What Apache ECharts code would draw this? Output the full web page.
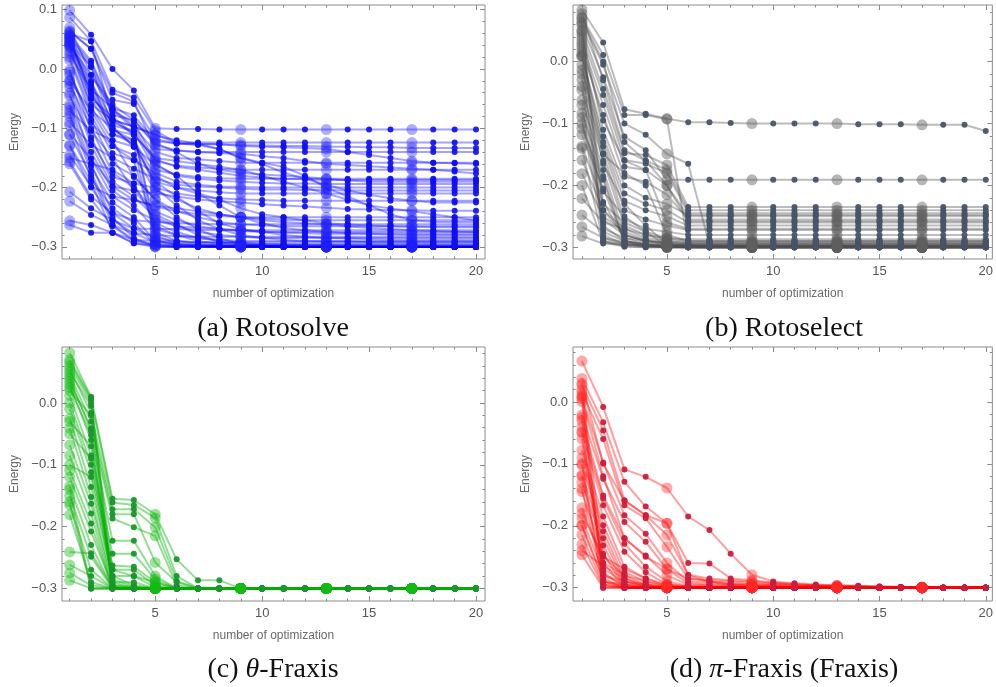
<!DOCTYPE html>
<html>
<head>
<meta charset="utf-8">
<script src="https://cdn.jsdelivr.net/npm/echarts@6/dist/echarts.min.js"></script>
<style>
html,body{margin:0;padding:0;background:#fff;}
#chart{width:996px;height:687px;}
</style>
</head>
<body>
<div id="chart"></div>
<script>
// Optimization step numbers (x values) and tick values
const steps = [1,2,3,4,5,6,7,8,9,10,11,12,13,14,15,16,17,18,19,20];
const xMajorTicks = [5,10,15,20];
const yMajorTicks = [-0.3,-0.2,-0.1,0,0.1];
const yMinorTicks = [-0.3,-0.28,-0.26,-0.24,-0.22,-0.2,-0.18,-0.16,-0.14,-0.12,-0.1,-0.08,-0.06,-0.04,-0.02,0,0.02,0.04,0.06,0.08,0.1];
const markedSteps = [1,5,9,13,17];
const panelCaptions = ['(a) Rotosolve','(b) Rotoselect','(c) {i|θ}-Fraxis','(d) {i|π}-Fraxis (Fraxis)'];
const xTitle = 'number of optimization';
const yTitle = 'Energy';

// Energy per optimization step, one row per run
const rotosolveRuns = [
[.099,.058,0,-.036,-.1,-.101,-.101,-.102,-.102,-.102,-.102,-.102,-.102,-.102,-.102,-.102,-.102,-.102,-.102,-.102],
[.087,.047,-.035,-.048,-.104,-.124,-.124,-.124,-.124,-.124,-.124,-.124,-.124,-.124,-.124,-.124,-.124,-.124,-.124,-.124],
[.063,.034,-.052,-.059,-.118,-.126,-.127,-.127,-.128,-.129,-.13,-.13,-.131,-.131,-.132,-.132,-.133,-.133,-.133,-.133],
[.058,.014,-.066,-.078,-.122,-.125,-.126,-.127,-.13,-.131,-.132,-.133,-.135,-.14,-.145,-.15,-.155,-.158,-.159,-.16],
[.052,.004,-.078,-.086,-.128,-.137,-.14,-.142,-.143,-.147,-.15,-.155,-.16,-.162,-.164,-.166,-.168,-.17,-.173,-.176],
[.046,-.023,-.086,-.097,-.14,-.15,-.152,-.155,-.158,-.158,-.158,-.158,-.158,-.158,-.158,-.158,-.158,-.158,-.158,-.158],
[.041,-.034,-.103,-.111,-.152,-.165,-.17,-.175,-.18,-.183,-.185,-.186,-.187,-.187,-.187,-.187,-.187,-.187,-.187,-.187],
[.038,-.064,-.12,-.131,-.162,-.18,-.185,-.188,-.19,-.192,-.193,-.193,-.194,-.194,-.194,-.194,-.194,-.194,-.194,-.194],
[.015,-.078,-.142,-.154,-.175,-.19,-.195,-.198,-.199,-.2,-.2,-.2,-.2,-.2,-.2,-.2,-.2,-.2,-.2,-.2],
[-.002,-.104,-.15,-.168,-.185,-.195,-.198,-.2,-.202,-.203,-.203,-.204,-.204,-.205,-.205,-.205,-.205,-.205,-.205,-.205],
[-.019,-.12,-.182,-.193,-.2,-.21,-.215,-.218,-.22,-.221,-.222,-.222,-.222,-.222,-.222,-.222,-.222,-.222,-.222,-.222],
[-.03,-.128,-.198,-.205,-.21,-.215,-.22,-.223,-.225,-.228,-.23,-.232,-.234,-.236,-.237,-.238,-.238,-.239,-.239,-.239],
[-.041,-.151,-.215,-.221,-.232,-.24,-.245,-.248,-.25,-.25,-.25,-.25,-.25,-.25,-.25,-.25,-.25,-.25,-.25,-.25],
[-.064,-.159,-.243,-.255,-.258,-.26,-.261,-.262,-.262,-.262,-.262,-.262,-.262,-.262,-.262,-.262,-.262,-.262,-.262,-.262],
[-.08,-.173,-.255,-.269,-.27,-.27,-.271,-.272,-.272,-.272,-.272,-.272,-.272,-.272,-.272,-.272,-.272,-.272,-.272,-.272],
[-.111,-.179,-.263,-.277,-.28,-.282,-.283,-.283,-.283,-.283,-.283,-.283,-.283,-.283,-.283,-.283,-.283,-.283,-.283,-.283],
[-.128,-.19,-.276,-.288,-.29,-.291,-.292,-.292,-.292,-.292,-.292,-.292,-.292,-.292,-.292,-.292,-.292,-.292,-.292,-.292],
[-.145,-.198,-.215,-.238,-.255,-.265,-.268,-.27,-.272,-.274,-.276,-.277,-.278,-.278,-.278,-.278,-.278,-.278,-.278,-.278],
[-.156,-.215,-.243,-.269,-.285,-.29,-.292,-.293,-.294,-.295,-.295,-.295,-.295,-.295,-.295,-.295,-.295,-.295,-.295,-.295],
[-.207,-.235,-.255,-.277,-.292,-.295,-.296,-.297,-.297,-.297,-.297,-.297,-.297,-.297,-.297,-.297,-.297,-.297,-.297,-.297],
[-.223,-.246,-.263,-.288,-.296,-.298,-.298,-.298,-.298,-.298,-.298,-.298,-.298,-.298,-.298,-.298,-.298,-.298,-.298,-.298],
[-.256,-.263,-.276,-.294,-.298,-.299,-.299,-.299,-.299,-.3,-.3,-.3,-.3,-.3,-.3,-.3,-.3,-.3,-.3,-.3],
[-.263,-.276,-.276,-.294,-.3,-.3,-.3,-.3,-.3,-.3,-.3,-.3,-.3,-.3,-.3,-.3,-.3,-.3,-.3,-.3],
[.06,.047,-.086,-.097,-.112,-.12,-.126,-.135,-.15,-.158,-.165,-.18,-.2,-.215,-.23,-.245,-.255,-.258,-.258,-.258],
[.056,-.02,-.11,-.12,-.18,-.2,-.21,-.22,-.235,-.245,-.25,-.255,-.26,-.262,-.264,-.265,-.266,-.267,-.267,-.267],
[.043,.004,-.097,-.131,-.19,-.215,-.24,-.26,-.27,-.275,-.28,-.283,-.285,-.286,-.287,-.288,-.288,-.288,-.288,-.288],
[.05,-.04,-.103,-.12,-.2,-.23,-.255,-.27,-.28,-.285,-.288,-.29,-.291,-.291,-.292,-.292,-.292,-.292,-.292,-.292],
[-.07,-.104,-.12,-.182,-.22,-.25,-.27,-.285,-.295,-.298,-.299,-.3,-.3,-.3,-.3,-.3,-.3,-.3,-.3,-.3],
[-.09,-.128,-.15,-.205,-.245,-.262,-.28,-.292,-.296,-.298,-.299,-.3,-.3,-.3,-.3,-.3,-.3,-.3,-.3,-.3],
[-.15,-.16,-.17,-.193,-.26,-.275,-.285,-.29,-.293,-.295,-.296,-.297,-.297,-.298,-.298,-.298,-.298,-.298,-.298,-.298],
[.03,-.06,-.086,-.111,-.265,-.28,-.29,-.295,-.297,-.298,-.299,-.299,-.3,-.3,-.3,-.3,-.3,-.3,-.3,-.3],
[-.005,-.09,-.13,-.154,-.275,-.29,-.295,-.297,-.298,-.299,-.3,-.3,-.3,-.3,-.3,-.3,-.3,-.3,-.3,-.3],
[.025,-.035,-.066,-.097,-.11,-.125,-.128,-.135,-.15,-.16,-.175,-.185,-.195,-.205,-.212,-.218,-.222,-.225,-.225,-.225],
[-.11,-.151,-.198,-.221,-.23,-.235,-.24,-.245,-.25,-.255,-.258,-.26,-.262,-.265,-.268,-.27,-.272,-.273,-.274,-.275],
[.07,-.01,-.06,-.086,-.125,-.14,-.16,-.17,-.175,-.178,-.18,-.182,-.185,-.188,-.19,-.19,-.19,-.19,-.19,-.19],
[.048,-.05,-.08,-.111,-.15,-.155,-.16,-.165,-.17,-.18,-.19,-.2,-.21,-.22,-.23,-.235,-.24,-.245,-.25,-.255],
[.055,-.045,-.09,-.105,-.28,-.295,-.298,-.299,-.3,-.3,-.3,-.3,-.3,-.3,-.3,-.3,-.3,-.3,-.3,-.3],
[-.02,-.07,-.1,-.13,-.288,-.297,-.3,-.3,-.3,-.3,-.3,-.3,-.3,-.3,-.3,-.3,-.3,-.3,-.3,-.3],
[.064,.034,-.04,-.055,-.135,-.138,-.14,-.14,-.14,-.14,-.14,-.14,-.14,-.14,-.14,-.14,-.14,-.14,-.14,-.14],
[.054,.01,-.07,-.09,-.155,-.163,-.166,-.168,-.17,-.17,-.17,-.17,-.17,-.17,-.17,-.17,-.17,-.17,-.17,-.17],
[.044,-.028,-.095,-.105,-.17,-.178,-.182,-.184,-.185,-.185,-.185,-.185,-.185,-.185,-.185,-.185,-.185,-.185,-.185,-.185],
[.036,-.05,-.11,-.125,-.19,-.2,-.205,-.208,-.21,-.21,-.21,-.21,-.21,-.21,-.21,-.21,-.21,-.21,-.21,-.21],
[.02,-.07,-.13,-.145,-.205,-.22,-.235,-.245,-.25,-.252,-.254,-.255,-.255,-.255,-.255,-.255,-.255,-.255,-.255,-.255],
[-.01,-.085,-.16,-.18,-.22,-.24,-.25,-.258,-.262,-.264,-.265,-.265,-.265,-.265,-.265,-.265,-.265,-.265,-.265,-.265],
[-.025,-.1,-.175,-.2,-.24,-.255,-.265,-.27,-.273,-.275,-.275,-.275,-.275,-.275,-.275,-.275,-.275,-.275,-.275,-.275],
[-.045,-.115,-.19,-.215,-.25,-.265,-.275,-.28,-.283,-.285,-.285,-.285,-.285,-.285,-.285,-.285,-.285,-.285,-.285,-.285],
[-.06,-.14,-.205,-.23,-.27,-.28,-.285,-.288,-.29,-.29,-.29,-.29,-.29,-.29,-.29,-.29,-.29,-.29,-.29,-.29],
[-.075,-.165,-.225,-.25,-.29,-.295,-.297,-.298,-.299,-.299,-.299,-.299,-.299,-.299,-.299,-.299,-.299,-.299,-.299,-.299],
[-.095,-.185,-.235,-.26,-.295,-.298,-.299,-.3,-.3,-.3,-.3,-.3,-.3,-.3,-.3,-.3,-.3,-.3,-.3,-.3],
[-.13,-.2,-.25,-.285,-.3,-.3,-.3,-.3,-.3,-.3,-.3,-.3,-.3,-.3,-.3,-.3,-.3,-.3,-.3,-.3],
[-.16,-.22,-.265,-.29,-.298,-.3,-.3,-.3,-.3,-.3,-.3,-.3,-.3,-.3,-.3,-.3,-.3,-.3,-.3,-.3],
[.04,-.01,-.07,-.1,-.16,-.18,-.21,-.23,-.25,-.26,-.268,-.272,-.275,-.277,-.278,-.279,-.28,-.28,-.28,-.28]
];

const rotoselectRuns = [
[.084,.031,-.077,-.084,-.092,-.098,-.098,-.099,-.1,-.1,-.1,-.1,-.1,-.101,-.101,-.101,-.102,-.102,-.102,-.112],
[.072,.011,-.086,-.086,-.093,-.296,-.298,-.299,-.3,-.3,-.3,-.3,-.3,-.3,-.3,-.3,-.3,-.3,-.3,-.3],
[.065,-.005,-.1,-.118,-.149,-.165,-.296,-.298,-.3,-.3,-.3,-.3,-.3,-.3,-.3,-.3,-.3,-.3,-.3,-.3],
[.058,-.025,-.121,-.143,-.191,-.191,-.191,-.191,-.191,-.191,-.191,-.191,-.191,-.191,-.191,-.191,-.191,-.191,-.191,-.191],
[.05,-.044,-.148,-.151,-.167,-.235,-.235,-.235,-.235,-.235,-.235,-.235,-.235,-.235,-.235,-.235,-.235,-.235,-.235,-.235],
[.04,-.054,-.159,-.165,-.18,-.245,-.245,-.245,-.245,-.245,-.245,-.245,-.245,-.245,-.245,-.245,-.245,-.245,-.245,-.245],
[.03,-.07,-.17,-.175,-.2,-.25,-.25,-.25,-.25,-.25,-.25,-.25,-.25,-.25,-.25,-.25,-.25,-.25,-.25,-.25],
[.02,-.086,-.186,-.194,-.215,-.255,-.255,-.255,-.255,-.255,-.255,-.255,-.255,-.255,-.255,-.255,-.255,-.255,-.255,-.255],
[.01,-.121,-.213,-.23,-.24,-.26,-.26,-.26,-.26,-.26,-.26,-.26,-.26,-.26,-.26,-.26,-.26,-.26,-.26,-.26],
[.008,-.13,-.225,-.24,-.25,-.265,-.265,-.265,-.265,-.265,-.265,-.265,-.265,-.265,-.265,-.265,-.265,-.265,-.265,-.265],
[-.013,-.137,-.24,-.255,-.265,-.272,-.272,-.272,-.272,-.272,-.272,-.272,-.272,-.272,-.272,-.272,-.272,-.272,-.272,-.272],
[-.029,-.148,-.255,-.27,-.275,-.28,-.28,-.28,-.28,-.28,-.28,-.28,-.28,-.28,-.28,-.28,-.28,-.28,-.28,-.28],
[-.046,-.16,-.265,-.28,-.285,-.287,-.287,-.287,-.287,-.287,-.287,-.287,-.287,-.287,-.287,-.287,-.287,-.287,-.287,-.287],
[-.062,-.175,-.28,-.29,-.292,-.293,-.293,-.293,-.293,-.293,-.293,-.293,-.293,-.293,-.293,-.293,-.293,-.293,-.293,-.293],
[-.083,-.185,-.29,-.295,-.296,-.297,-.297,-.297,-.297,-.297,-.297,-.297,-.297,-.297,-.297,-.297,-.297,-.297,-.297,-.297],
[-.108,-.191,-.294,-.298,-.3,-.3,-.3,-.3,-.3,-.3,-.3,-.3,-.3,-.3,-.3,-.3,-.3,-.3,-.3,-.3],
[-.118,-.205,-.29,-.297,-.299,-.3,-.3,-.3,-.3,-.3,-.3,-.3,-.3,-.3,-.3,-.3,-.3,-.3,-.3,-.3],
[-.137,-.227,-.285,-.294,-.297,-.298,-.298,-.298,-.298,-.298,-.298,-.298,-.298,-.298,-.298,-.298,-.298,-.298,-.298,-.298],
[-.159,-.24,-.28,-.29,-.295,-.297,-.297,-.297,-.297,-.297,-.297,-.297,-.297,-.297,-.297,-.297,-.297,-.297,-.297,-.297],
[-.181,-.25,-.275,-.288,-.293,-.296,-.296,-.296,-.296,-.296,-.296,-.296,-.296,-.296,-.296,-.296,-.296,-.296,-.296,-.296],
[-.221,-.26,-.27,-.285,-.29,-.294,-.294,-.294,-.294,-.294,-.294,-.294,-.294,-.294,-.294,-.294,-.294,-.294,-.294,-.294],
[-.248,-.275,-.29,-.296,-.299,-.3,-.3,-.3,-.3,-.3,-.3,-.3,-.3,-.3,-.3,-.3,-.3,-.3,-.3,-.3],
[-.267,-.285,-.295,-.298,-.3,-.3,-.3,-.3,-.3,-.3,-.3,-.3,-.3,-.3,-.3,-.3,-.3,-.3,-.3,-.3],
[-.282,-.294,-.296,-.298,-.3,-.3,-.3,-.3,-.3,-.3,-.3,-.3,-.3,-.3,-.3,-.3,-.3,-.3,-.3,-.3],
[.078,-.03,-.143,-.16,-.175,-.24,-.24,-.24,-.24,-.24,-.24,-.24,-.24,-.24,-.24,-.24,-.24,-.24,-.24,-.24],
[.045,-.11,-.2,-.22,-.23,-.248,-.248,-.248,-.248,-.248,-.248,-.248,-.248,-.248,-.248,-.248,-.248,-.248,-.248,-.248],
[.025,-.095,-.16,-.175,-.26,-.27,-.27,-.27,-.27,-.27,-.27,-.27,-.27,-.27,-.27,-.27,-.27,-.27,-.27,-.27],
[.015,-.15,-.18,-.2,-.28,-.29,-.29,-.29,-.29,-.29,-.29,-.29,-.29,-.29,-.29,-.29,-.29,-.29,-.29,-.29],
[-.005,-.165,-.23,-.265,-.295,-.298,-.298,-.298,-.298,-.298,-.298,-.298,-.298,-.298,-.298,-.298,-.298,-.298,-.298,-.298],
[-.1,-.21,-.25,-.275,-.298,-.3,-.3,-.3,-.3,-.3,-.3,-.3,-.3,-.3,-.3,-.3,-.3,-.3,-.3,-.3],
[.062,-.29,-.295,-.297,-.298,-.299,-.3,-.3,-.3,-.3,-.3,-.3,-.3,-.3,-.3,-.3,-.3,-.3,-.3,-.3],
[.01,-.285,-.292,-.295,-.297,-.298,-.298,-.298,-.298,-.298,-.298,-.298,-.298,-.298,-.298,-.298,-.298,-.298,-.298,-.298],
[-.04,-.27,-.285,-.29,-.293,-.295,-.295,-.295,-.295,-.295,-.295,-.295,-.295,-.295,-.295,-.295,-.295,-.295,-.295,-.295],
[.05,-.23,-.26,-.275,-.285,-.29,-.29,-.29,-.29,-.29,-.29,-.29,-.29,-.29,-.29,-.29,-.29,-.29,-.29,-.29],
[.035,-.24,-.27,-.28,-.288,-.292,-.292,-.292,-.292,-.292,-.292,-.292,-.292,-.292,-.292,-.292,-.292,-.292,-.292,-.292],
[-.02,-.255,-.28,-.29,-.295,-.297,-.297,-.297,-.297,-.297,-.297,-.297,-.297,-.297,-.297,-.297,-.297,-.297,-.297,-.297],
[-.07,-.265,-.29,-.295,-.298,-.299,-.299,-.299,-.299,-.299,-.299,-.299,-.299,-.299,-.299,-.299,-.299,-.299,-.299,-.299],
[-.09,-.28,-.295,-.298,-.299,-.3,-.3,-.3,-.3,-.3,-.3,-.3,-.3,-.3,-.3,-.3,-.3,-.3,-.3,-.3],
[-.14,-.29,-.298,-.3,-.3,-.3,-.3,-.3,-.3,-.3,-.3,-.3,-.3,-.3,-.3,-.3,-.3,-.3,-.3,-.3],
[-.2,-.292,-.299,-.3,-.3,-.3,-.3,-.3,-.3,-.3,-.3,-.3,-.3,-.3,-.3,-.3,-.3,-.3,-.3,-.3],
[.07,0,-.13,-.16,-.2,-.258,-.258,-.258,-.258,-.258,-.258,-.258,-.258,-.258,-.258,-.258,-.258,-.258,-.258,-.258]
];

const thetaFraxisRuns = [
[.081,.01,-.155,-.157,-.18,-.253,-.287,-.287,-.3,-.3,-.3,-.3,-.3,-.3,-.3,-.3,-.3,-.3,-.3,-.3],
[.066,.005,-.161,-.165,-.186,-.28,-.3,-.3,-.3,-.3,-.3,-.3,-.3,-.3,-.3,-.3,-.3,-.3,-.3,-.3],
[.055,-.016,-.172,-.172,-.201,-.288,-.3,-.3,-.3,-.3,-.3,-.3,-.3,-.3,-.3,-.3,-.3,-.3,-.3,-.3],
[.045,-.03,-.18,-.18,-.258,-.29,-.3,-.3,-.3,-.3,-.3,-.3,-.3,-.3,-.3,-.3,-.3,-.3,-.3,-.3],
[.035,-.041,-.187,-.201,-.215,-.295,-.3,-.3,-.3,-.3,-.3,-.3,-.3,-.3,-.3,-.3,-.3,-.3,-.3,-.3],
[.025,-.052,-.223,-.223,-.28,-.3,-.3,-.3,-.3,-.3,-.3,-.3,-.3,-.3,-.3,-.3,-.3,-.3,-.3,-.3],
[.012,-.085,-.244,-.244,-.285,-.3,-.3,-.3,-.3,-.3,-.3,-.3,-.3,-.3,-.3,-.3,-.3,-.3,-.3,-.3],
[0,-.1,-.263,-.265,-.29,-.3,-.3,-.3,-.3,-.3,-.3,-.3,-.3,-.3,-.3,-.3,-.3,-.3,-.3,-.3],
[-.01,-.112,-.27,-.27,-.295,-.3,-.3,-.3,-.3,-.3,-.3,-.3,-.3,-.3,-.3,-.3,-.3,-.3,-.3,-.3],
[-.025,-.136,-.28,-.28,-.298,-.3,-.3,-.3,-.3,-.3,-.3,-.3,-.3,-.3,-.3,-.3,-.3,-.3,-.3,-.3],
[-.041,-.152,-.29,-.29,-.3,-.3,-.3,-.3,-.3,-.3,-.3,-.3,-.3,-.3,-.3,-.3,-.3,-.3,-.3,-.3],
[-.068,-.163,-.295,-.297,-.3,-.3,-.3,-.3,-.3,-.3,-.3,-.3,-.3,-.3,-.3,-.3,-.3,-.3,-.3,-.3],
[-.085,-.179,-.3,-.3,-.3,-.3,-.3,-.3,-.3,-.3,-.3,-.3,-.3,-.3,-.3,-.3,-.3,-.3,-.3,-.3],
[-.109,-.195,-.3,-.3,-.3,-.3,-.3,-.3,-.3,-.3,-.3,-.3,-.3,-.3,-.3,-.3,-.3,-.3,-.3,-.3],
[-.12,-.208,-.298,-.3,-.3,-.3,-.3,-.3,-.3,-.3,-.3,-.3,-.3,-.3,-.3,-.3,-.3,-.3,-.3,-.3],
[-.135,-.23,-.3,-.3,-.3,-.3,-.3,-.3,-.3,-.3,-.3,-.3,-.3,-.3,-.3,-.3,-.3,-.3,-.3,-.3],
[-.15,-.249,-.3,-.3,-.3,-.3,-.3,-.3,-.3,-.3,-.3,-.3,-.3,-.3,-.3,-.3,-.3,-.3,-.3,-.3],
[-.165,-.27,-.3,-.3,-.3,-.3,-.3,-.3,-.3,-.3,-.3,-.3,-.3,-.3,-.3,-.3,-.3,-.3,-.3,-.3],
[-.181,-.29,-.3,-.3,-.3,-.3,-.3,-.3,-.3,-.3,-.3,-.3,-.3,-.3,-.3,-.3,-.3,-.3,-.3,-.3],
[-.241,-.243,-.298,-.3,-.3,-.3,-.3,-.3,-.3,-.3,-.3,-.3,-.3,-.3,-.3,-.3,-.3,-.3,-.3,-.3],
[-.262,-.28,-.3,-.3,-.3,-.3,-.3,-.3,-.3,-.3,-.3,-.3,-.3,-.3,-.3,-.3,-.3,-.3,-.3,-.3],
[-.275,-.295,-.3,-.3,-.3,-.3,-.3,-.3,-.3,-.3,-.3,-.3,-.3,-.3,-.3,-.3,-.3,-.3,-.3,-.3],
[-.287,-.3,-.3,-.3,-.3,-.3,-.3,-.3,-.3,-.3,-.3,-.3,-.3,-.3,-.3,-.3,-.3,-.3,-.3,-.3],
[.07,.008,-.3,-.3,-.3,-.3,-.3,-.3,-.3,-.3,-.3,-.3,-.3,-.3,-.3,-.3,-.3,-.3,-.3,-.3],
[.05,-.005,-.298,-.3,-.3,-.3,-.3,-.3,-.3,-.3,-.3,-.3,-.3,-.3,-.3,-.3,-.3,-.3,-.3,-.3],
[.04,-.045,-.3,-.3,-.3,-.3,-.3,-.3,-.3,-.3,-.3,-.3,-.3,-.3,-.3,-.3,-.3,-.3,-.3,-.3],
[.03,-.06,-.295,-.3,-.3,-.3,-.3,-.3,-.3,-.3,-.3,-.3,-.3,-.3,-.3,-.3,-.3,-.3,-.3,-.3],
[-.05,-.09,-.29,-.3,-.3,-.3,-.3,-.3,-.3,-.3,-.3,-.3,-.3,-.3,-.3,-.3,-.3,-.3,-.3,-.3],
[-.1,-.12,-.285,-.298,-.3,-.3,-.3,-.3,-.3,-.3,-.3,-.3,-.3,-.3,-.3,-.3,-.3,-.3,-.3,-.3],
[-.16,-.3,-.3,-.3,-.3,-.3,-.3,-.3,-.3,-.3,-.3,-.3,-.3,-.3,-.3,-.3,-.3,-.3,-.3,-.3],
[.02,-.02,-.3,-.3,-.3,-.3,-.3,-.3,-.3,-.3,-.3,-.3,-.3,-.3,-.3,-.3,-.3,-.3,-.3,-.3],
[-.03,-.07,-.28,-.295,-.3,-.3,-.3,-.3,-.3,-.3,-.3,-.3,-.3,-.3,-.3,-.3,-.3,-.3,-.3,-.3],
[-.14,-.3,-.3,-.3,-.3,-.3,-.3,-.3,-.3,-.3,-.3,-.3,-.3,-.3,-.3,-.3,-.3,-.3,-.3,-.3],
[.06,0,-.27,-.28,-.29,-.3,-.3,-.3,-.3,-.3,-.3,-.3,-.3,-.3,-.3,-.3,-.3,-.3,-.3,-.3]
];

const piFraxisRuns = [
[.066,-.008,-.109,-.121,-.139,-.185,-.207,-.245,-.279,-.29,-.293,-.295,-.296,-.297,-.298,-.299,-.299,-.3,-.3,-.3],
[.038,-.033,-.129,-.169,-.196,-.26,-.261,-.285,-.288,-.292,-.294,-.296,-.297,-.298,-.298,-.299,-.299,-.3,-.3,-.3],
[.027,-.046,-.159,-.183,-.215,-.279,-.285,-.288,-.29,-.293,-.295,-.296,-.297,-.298,-.299,-.299,-.3,-.3,-.3,-.3],
[.015,-.06,-.167,-.188,-.234,-.285,-.288,-.29,-.292,-.294,-.296,-.297,-.298,-.298,-.299,-.299,-.3,-.3,-.3,-.3],
[.008,-.098,-.183,-.213,-.26,-.29,-.292,-.294,-.295,-.296,-.297,-.298,-.299,-.299,-.3,-.3,-.3,-.3,-.3,-.3],
[-.021,-.124,-.194,-.226,-.27,-.293,-.295,-.296,-.297,-.298,-.299,-.299,-.3,-.3,-.3,-.3,-.3,-.3,-.3,-.3],
[-.03,-.151,-.22,-.248,-.28,-.295,-.296,-.297,-.298,-.299,-.3,-.3,-.3,-.3,-.3,-.3,-.3,-.3,-.3,-.3],
[-.04,-.156,-.229,-.266,-.29,-.297,-.298,-.299,-.3,-.3,-.3,-.3,-.3,-.3,-.3,-.3,-.3,-.3,-.3,-.3],
[-.048,-.167,-.242,-.275,-.295,-.298,-.299,-.3,-.3,-.3,-.3,-.3,-.3,-.3,-.3,-.3,-.3,-.3,-.3,-.3],
[-.078,-.185,-.266,-.285,-.298,-.3,-.3,-.3,-.3,-.3,-.3,-.3,-.3,-.3,-.3,-.3,-.3,-.3,-.3,-.3],
[-.09,-.199,-.275,-.29,-.299,-.3,-.3,-.3,-.3,-.3,-.3,-.3,-.3,-.3,-.3,-.3,-.3,-.3,-.3,-.3],
[-.102,-.209,-.285,-.295,-.3,-.3,-.3,-.3,-.3,-.3,-.3,-.3,-.3,-.3,-.3,-.3,-.3,-.3,-.3,-.3],
[-.118,-.22,-.29,-.298,-.3,-.3,-.3,-.3,-.3,-.3,-.3,-.3,-.3,-.3,-.3,-.3,-.3,-.3,-.3,-.3],
[-.13,-.232,-.295,-.3,-.3,-.3,-.3,-.3,-.3,-.3,-.3,-.3,-.3,-.3,-.3,-.3,-.3,-.3,-.3,-.3],
[-.145,-.245,-.298,-.3,-.3,-.3,-.3,-.3,-.3,-.3,-.3,-.3,-.3,-.3,-.3,-.3,-.3,-.3,-.3,-.3],
[-.171,-.26,-.3,-.3,-.3,-.3,-.3,-.3,-.3,-.3,-.3,-.3,-.3,-.3,-.3,-.3,-.3,-.3,-.3,-.3],
[-.188,-.275,-.3,-.3,-.3,-.3,-.3,-.3,-.3,-.3,-.3,-.3,-.3,-.3,-.3,-.3,-.3,-.3,-.3,-.3],
[-.199,-.285,-.3,-.3,-.3,-.3,-.3,-.3,-.3,-.3,-.3,-.3,-.3,-.3,-.3,-.3,-.3,-.3,-.3,-.3],
[-.215,-.295,-.3,-.3,-.3,-.3,-.3,-.3,-.3,-.3,-.3,-.3,-.3,-.3,-.3,-.3,-.3,-.3,-.3,-.3],
[-.23,-.298,-.3,-.3,-.3,-.3,-.3,-.3,-.3,-.3,-.3,-.3,-.3,-.3,-.3,-.3,-.3,-.3,-.3,-.3],
[-.247,-.3,-.3,-.3,-.3,-.3,-.3,-.3,-.3,-.3,-.3,-.3,-.3,-.3,-.3,-.3,-.3,-.3,-.3,-.3],
[.01,-.29,-.298,-.3,-.3,-.3,-.3,-.3,-.3,-.3,-.3,-.3,-.3,-.3,-.3,-.3,-.3,-.3,-.3,-.3],
[0,-.28,-.295,-.3,-.3,-.3,-.3,-.3,-.3,-.3,-.3,-.3,-.3,-.3,-.3,-.3,-.3,-.3,-.3,-.3],
[-.025,-.295,-.3,-.3,-.3,-.3,-.3,-.3,-.3,-.3,-.3,-.3,-.3,-.3,-.3,-.3,-.3,-.3,-.3,-.3],
[-.06,-.27,-.29,-.298,-.3,-.3,-.3,-.3,-.3,-.3,-.3,-.3,-.3,-.3,-.3,-.3,-.3,-.3,-.3,-.3],
[-.1,-.3,-.3,-.3,-.3,-.3,-.3,-.3,-.3,-.3,-.3,-.3,-.3,-.3,-.3,-.3,-.3,-.3,-.3,-.3],
[-.14,-.29,-.3,-.3,-.3,-.3,-.3,-.3,-.3,-.3,-.3,-.3,-.3,-.3,-.3,-.3,-.3,-.3,-.3,-.3],
[-.18,-.25,-.28,-.295,-.3,-.3,-.3,-.3,-.3,-.3,-.3,-.3,-.3,-.3,-.3,-.3,-.3,-.3,-.3,-.3],
[-.24,-.265,-.285,-.298,-.3,-.3,-.3,-.3,-.3,-.3,-.3,-.3,-.3,-.3,-.3,-.3,-.3,-.3,-.3,-.3],
[.03,-.1,-.159,-.183,-.196,-.28,-.29,-.295,-.297,-.298,-.299,-.3,-.3,-.3,-.3,-.3,-.3,-.3,-.3,-.3],
[.02,-.25,-.27,-.285,-.295,-.298,-.299,-.3,-.3,-.3,-.3,-.3,-.3,-.3,-.3,-.3,-.3,-.3,-.3,-.3],
[-.05,-.26,-.28,-.29,-.296,-.299,-.3,-.3,-.3,-.3,-.3,-.3,-.3,-.3,-.3,-.3,-.3,-.3,-.3,-.3],
[-.12,-.28,-.29,-.295,-.298,-.3,-.3,-.3,-.3,-.3,-.3,-.3,-.3,-.3,-.3,-.3,-.3,-.3,-.3,-.3],
[-.2,-.29,-.295,-.298,-.3,-.3,-.3,-.3,-.3,-.3,-.3,-.3,-.3,-.3,-.3,-.3,-.3,-.3,-.3,-.3],
[.005,-.12,-.22,-.25,-.27,-.285,-.29,-.293,-.295,-.296,-.297,-.298,-.299,-.299,-.3,-.3,-.3,-.3,-.3,-.3]
];

// Layout and colours of the four panels
const panels = [
  { runs: rotosolveRuns, grid: { left: 62, top: 5, width: 423, height: 254 },
    xRange: [0.64, 20.42], yRange: [-0.3204, 0.108],
    line: 'rgba(0,0,255,0.36)', dot: 'rgba(15,15,240,0.92)', big: 'rgba(30,30,255,0.36)',
    caption: [273, 329] },
  { runs: rotoselectRuns, grid: { left: 573, top: 5, width: 422, height: 254 },
    xRange: [0.58, 20.31], yRange: [-0.319, 0.0917],
    line: 'rgba(80,80,80,0.38)', dot: 'rgba(72,84,104,0.95)', big: 'rgba(95,95,95,0.45)',
    caption: [784, 329] },
  { runs: thetaFraxisRuns, grid: { left: 62, top: 347, width: 423, height: 254 },
    xRange: [0.64, 20.42], yRange: [-0.3204, 0.0905],
    line: 'rgba(0,175,0,0.42)', dot: 'rgba(25,150,45,0.95)', big: 'rgba(20,185,20,0.42)',
    caption: [273, 670] },
  { runs: piFraxisRuns, grid: { left: 573, top: 347, width: 422, height: 254 },
    xRange: [0.58, 20.31], yRange: [-0.3215, 0.0887],
    line: 'rgba(255,0,0,0.38)', dot: 'rgba(205,30,60,0.95)', big: 'rgba(255,40,40,0.4)',
    caption: [784, 670] }
];

const sans = 'Liberation Sans, Arial, sans-serif';
const serif = 'Liberation Serif, Times New Roman, serif';
const tickColor = '#8a8a8a';
const fmtY = v => (v < -1e-9 ? '\u2212' : '') + Math.abs(v).toFixed(1);

const grids = [], xAxes = [], yAxes = [], series = [], graphics = [];

panels.forEach((p, gi) => {
  grids.push(Object.assign({ show: true, borderColor: '#8c8c8c', borderWidth: 1, backgroundColor: 'transparent', containLabel: false }, p.grid));
  const [x0, x1] = p.xRange, [y0, y1] = p.yRange;
  const yMaj = yMajorTicks.filter(v => v >= y0 && v <= y1);
  const yMin = yMinorTicks.filter(v => v >= y0 && v <= y1);
  const xBase = { type: 'value', gridIndex: gi, min: x0, max: x1, splitLine: { show: false }, axisLine: { show: false, onZero: false } };
  const yBase = { type: 'value', gridIndex: gi, min: y0, max: y1, splitLine: { show: false }, axisLine: { show: false, onZero: false } };
  const tick = (vals, len) => ({ show: true, inside: true, length: len, customValues: vals, lineStyle: { color: tickColor, width: 1 } });
  const noLabel = vals => ({ show: false, customValues: vals });

  xAxes.push(Object.assign({}, xBase, {
    position: 'bottom', axisTick: tick(xMajorTicks, 5),
    axisLabel: { show: true, customValues: xMajorTicks, color: '#555', fontSize: 13, fontFamily: sans, margin: 6 },
    name: xTitle, nameLocation: 'middle', nameGap: 29,
    nameTextStyle: { color: '#6a6a6a', fontSize: 12, fontFamily: sans }
  }));
  xAxes.push(Object.assign({}, xBase, { position: 'bottom', axisTick: tick(steps, 2.5), axisLabel: noLabel(steps) }));
  xAxes.push(Object.assign({}, xBase, { position: 'top', axisTick: tick(xMajorTicks, 5), axisLabel: noLabel(xMajorTicks) }));
  xAxes.push(Object.assign({}, xBase, { position: 'top', axisTick: tick(steps, 2.5), axisLabel: noLabel(steps) }));

  yAxes.push(Object.assign({}, yBase, {
    position: 'left', axisTick: tick(yMaj, 5),
    axisLabel: { show: true, customValues: yMaj, color: '#555', fontSize: 13, fontFamily: sans, margin: 5, formatter: fmtY },
    name: yTitle, nameLocation: 'middle', nameGap: 41,
    nameTextStyle: { color: '#6a6a6a', fontSize: 12, fontFamily: sans }
  }));
  yAxes.push(Object.assign({}, yBase, { position: 'left', axisTick: tick(yMin, 2.5), axisLabel: noLabel(yMin) }));
  yAxes.push(Object.assign({}, yBase, { position: 'right', axisTick: tick(yMaj, 5), axisLabel: noLabel(yMaj) }));
  yAxes.push(Object.assign({}, yBase, { position: 'right', axisTick: tick(yMin, 2.5), axisLabel: noLabel(yMin) }));

  p.runs.forEach(run => {
    series.push({
      type: 'line', xAxisIndex: gi * 4, yAxisIndex: gi * 4,
      symbol: 'circle', showSymbol: true, silent: true, animation: false,
      lineStyle: { color: p.line, width: 2 },
      itemStyle: { color: p.dot },
      emphasis: { disabled: true },
      data: run.map((v, i) => {
        const marked = markedSteps.includes(steps[i]);
        return { value: [steps[i], v], symbolSize: marked ? 11 : 6, itemStyle: { color: marked ? p.big : p.dot } };
      })
    });
  });

  graphics.push({
    type: 'text', x: p.caption[0], y: p.caption[1], silent: true,
    style: {
      text: panelCaptions[gi], fill: '#111', align: 'center', verticalAlign: 'middle',
      fontFamily: serif, fontSize: 28,
      rich: { i: { fontStyle: 'italic', fontFamily: serif, fontSize: 28, fill: '#111' } }
    }
  });
});

const chart = echarts.init(document.getElementById('chart'), null, { renderer: 'canvas' });
chart.setOption({
  animation: false,
  backgroundColor: '#fff',
  grid: grids,
  xAxis: xAxes,
  yAxis: yAxes,
  series: series,
  graphic: graphics
});
</script>
</body>
</html>
